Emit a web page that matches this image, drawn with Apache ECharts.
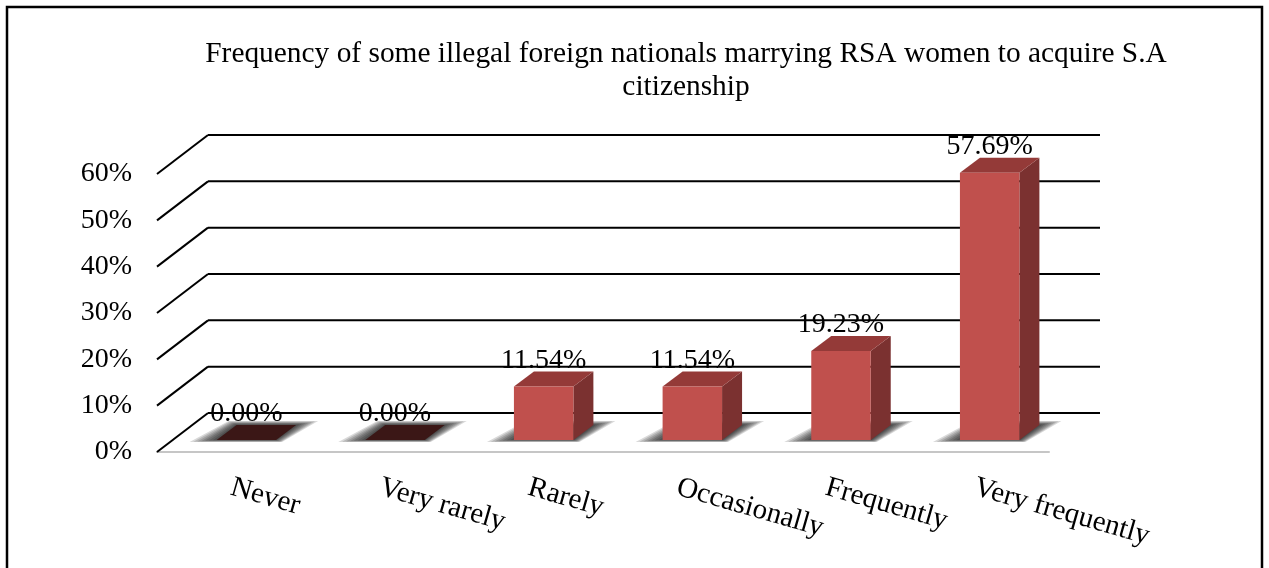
<!DOCTYPE html>
<html>
<head>
<meta charset="utf-8">
<script src="https://cdn.jsdelivr.net/npm/echarts@6/dist/echarts.min.js"></script>
<style>
  html, body { margin: 0; padding: 0; background: #ffffff; }
  #chart { width: 1269px; height: 568px; }
</style>
</head>
<body>
<div id="chart"></div>
<script>
// ---- data ----
const categories = ['Never', 'Very rarely', 'Rarely', 'Occasionally', 'Frequently', 'Very frequently'];
const shares = [0, 0, 11.54, 11.54, 19.23, 57.69];
const valueTicks = [0, 10, 20, 30, 40, 50, 60];
const titleLines = ['Frequency of some illegal foreign nationals marrying RSA women to acquire S.A', 'citizenship'];

// ---- 3-D box geometry (pixels), measured from the front floor plane ----
const FONT = '"Liberation Serif", "Times New Roman", serif';
const WALL_DX = 51, WALL_DY = -39;      // front plane -> back wall
const BAR_DX = 15, BAR_DY = -12;        // front plane -> bar front face
const DEPTH_X = 20, DEPTH_Y = -15;      // bar depth
const BAR_RATIO = 0.4;                  // bar width as share of category band
const SHADOW_LAYERS = 7;                // stacked translucent rings for a soft floor shadow

const chart = echarts.init(document.getElementById('chart'), null, { renderer: 'canvas' });

// back-wall gridlines plus the diagonal side-wall lines, one per value tick
function renderWall(params, api) {
  const v = api.value(1);
  const band = api.size([1, 0])[0];
  const first = api.coord([0, v]);
  const last = api.coord([categories.length - 1, v]);
  const x0 = first[0] - band / 2;
  const x1 = last[0] + band / 2;
  const y = first[1];
  const lineStyle = { stroke: '#000000', lineWidth: 2, fill: null };
  return {
    type: 'group',
    children: [
      { type: 'line', shape: { x1: x0 + WALL_DX, y1: y + WALL_DY, x2: x1 + WALL_DX, y2: y + WALL_DY }, style: lineStyle },
      { type: 'line', shape: { x1: x0, y1: y, x2: x0 + WALL_DX, y2: y + WALL_DY }, style: lineStyle }
    ]
  };
}

// one extruded bar: soft floor shadow, front/top/side faces and value label
function renderBar(params, api) {
  const i = api.value(0);
  const v = api.value(1);
  const band = api.size([1, 0])[0];
  const w = band * BAR_RATIO;
  const base = api.coord([i, 0]);
  const top = api.coord([i, v]);
  const xl = base[0] - w / 2 + BAR_DX;
  const xr = xl + w;
  const yb = base[1] + BAR_DY;
  const yt = top[1] + BAR_DY;
  const dx = DEPTH_X, dy = DEPTH_Y;
  const children = [];

  // shadow: footprint widened step by step, each ring faintly translucent
  for (let k = SHADOW_LAYERS; k >= 0; k--) {
    const t = k / SHADOW_LAYERS;
    children.push({
      type: 'polygon',
      shape: {
        points: [
          [xl - 27 * t, yb + 2 * t],
          [xr + 6 * t, yb + 2 * t],
          [xr + dx + 22 * t, yb + dy - 4 * t],
          [xl + dx - 8 * t, yb + dy - 4 * t]
        ]
      },
      style: { fill: 'rgba(0,0,0,0.15)' }
    });
  }

  if (v > 0) {
    children.push({
      type: 'polygon',
      shape: { points: [[xr, yt], [xr + dx, yt + dy], [xr + dx, yb + dy], [xr, yb]] },
      style: { fill: '#7b3130' }
    });
    children.push({
      type: 'polygon',
      shape: { points: [[xl, yt], [xr, yt], [xr + dx, yt + dy], [xl + dx, yt + dy]] },
      style: { fill: '#943a38' }
    });
    children.push({
      type: 'rect',
      shape: { x: xl, y: yt, width: w, height: yb - yt },
      style: { fill: '#c0504d' }
    });
  } else {
    children.push({
      type: 'polygon',
      shape: { points: [[xl, yt], [xr, yt], [xr + dx, yt + dy], [xl + dx, yt + dy]] },
      style: { fill: '#3b1716' }
    });
  }

  children.push({
    type: 'text',
    x: (xl + xr) / 2,
    y: yt + dy + 3,
    style: {
      text: v.toFixed(2) + '%',
      fill: '#000000',
      fontSize: 28,
      fontFamily: FONT,
      align: 'center',
      verticalAlign: 'bottom'
    }
  });
  return { type: 'group', children: children };
}

const option = {
  animation: false,
  backgroundColor: '#ffffff',
  title: {
    text: titleLines.join('\n'),
    left: 681,
    top: 33,
    textAlign: 'center',
    textStyle: { fontFamily: FONT, fontSize: 29.4, fontWeight: 'normal', color: '#000000', lineHeight: 33 }
  },
  graphic: [{
    type: 'rect',
    shape: { x: 7, y: 7, width: 1255, height: 640 },
    style: { fill: null, stroke: '#000000', lineWidth: 2.5 },
    silent: true
  }],
  grid: { left: 157, right: 220, top: 174, bottom: 116 },
  xAxis: {
    type: 'category',
    data: categories,
    axisLine: { show: true, lineStyle: { color: '#c6c6c6', width: 2 } },
    axisTick: { show: false },
    splitLine: { show: false },
    axisLabel: { rotate: -16, margin: 35, fontSize: 29, fontFamily: FONT, color: '#000000', interval: 0 }
  },
  yAxis: {
    type: 'value',
    min: 0,
    max: 60,
    interval: 10,
    axisLine: { show: false },
    axisTick: { show: false },
    splitLine: { show: false },
    axisLabel: { formatter: '{value}%', margin: 25, fontSize: 28, fontFamily: FONT, color: '#000000' }
  },
  series: [
    {
      type: 'custom',
      name: 'walls',
      z: 1,
      silent: true,
      renderItem: renderWall,
      encode: { x: 0, y: 1 },
      data: valueTicks.map(function (t) { return [0, t]; })
    },
    {
      type: 'custom',
      name: 'share',
      z: 2,
      renderItem: renderBar,
      encode: { x: 0, y: 1 },
      data: shares.map(function (s, i) { return [i, s]; })
    }
  ]
};

chart.setOption(option);
</script>
</body>
</html>
